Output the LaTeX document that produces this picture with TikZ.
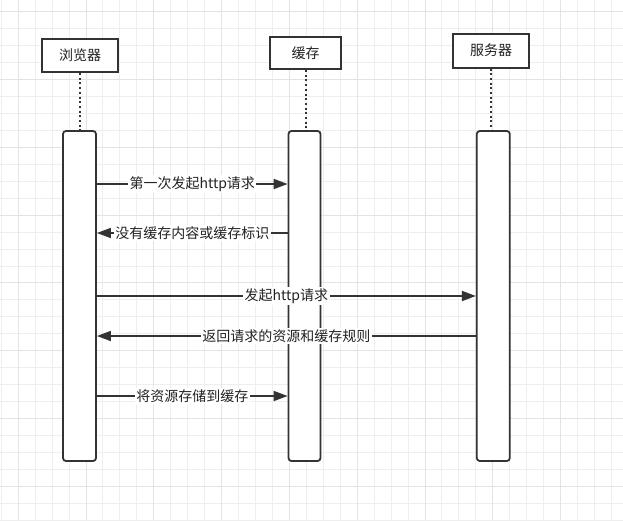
\documentclass[tikz,border=0pt]{standalone}
\usepackage{fontspec}
\newfontfamily\cjk{Noto Sans CJK SC}
\usepackage{xcolor}
\usepackage{tikz}
\usetikzlibrary{arrows.meta,positioning,calc}
\definecolor{ink}{HTML}{333333}
\definecolor{textink}{HTML}{222222}
\definecolor{gridminor}{HTML}{EEEEEE}
\definecolor{gridmajor}{HTML}{E3E3E3}

\begin{document}
\begin{tikzpicture}[x=1pt, y=-1pt,
    gridline/.style={draw=gridminor, line width=0.9pt},
    gridmain/.style={draw=gridmajor, line width=0.9pt},
    actor/.style={draw=ink, rectangle, line width=2pt, fill=white, minimum width=76pt, minimum height=33pt, text centered, text=textink, font=\cjk\fontsize{14}{16}\selectfont},
    bar/.style={draw=ink, rectangle, rounded corners=3pt, line width=1.8pt, fill=white, minimum width=33pt, minimum height=330pt},
    lifeline/.style={draw=ink, line width=2pt, dash pattern=on 2pt off 2.7pt},
    msg/.style={draw=ink, line width=1.7pt, -{Triangle[length=14pt,width=10pt]}},
    lbl/.style={fill=white, inner sep=1.5pt, text=textink, font=\cjk\fontsize{14}{16}\selectfont}
]
\useasboundingbox (0,0) rectangle (623,520);
\fill[white] (0,0) rectangle (623,520);

\foreach \i [evaluate=\i as \x using 1.2+16.95*\i] in {0,...,36}
    \draw[gridline] (\x,0) -- (\x,520);
\foreach \i [evaluate=\i as \y using 11.7+16.95*\i] in {0,...,30}
    \draw[gridline] (0,\y) -- (623,\y);
\foreach \i [evaluate=\i as \x using 1.2+16.95*(4*\i+1)] in {0,...,8}
    \draw[gridmain] (\x,0) -- (\x,520);
\foreach \i [evaluate=\i as \y using 11.7+16.95*4*\i] in {0,...,7}
    \draw[gridmain] (0,\y) -- (623,\y);

\node[actor] (browser) at (80,55.5) {浏览器};
\node[actor, minimum width=71pt, minimum height=32pt] (cache) at (305.5,53) {缓存};
\node[actor, minimum height=34pt] (server) at (491,50.5) {服务器};

\node[bar] (brbar) at (79.5,296) {};
\node[bar, minimum width=32pt] (cabar) at (304.5,296) {};
\node[bar] (svbar) at (493.3,296) {};

\draw[lifeline] (browser.south) -- (browser.south |- brbar.north);
\draw[lifeline] (cache.south) -- (cache.south |- cabar.north);
\draw[lifeline] (server.south) -- (server.south |- svbar.north);

\coordinate (m1) at (0,184);
\coordinate (m2) at (0,233);
\coordinate (m3) at (0,296);
\coordinate (m4) at (0,336);
\coordinate (m5) at (0,396);

\draw[msg] (brbar.east |- m1) -- node[lbl] {第一次发起http请求} (cabar.west |- m1);
\draw[msg] (cabar.west |- m2) -- node[lbl] {没有缓存内容或缓存标识} (brbar.east |- m2);
\draw[msg] (brbar.east |- m3) -- node[lbl] {发起http请求} (svbar.west |- m3);
\draw[msg] (svbar.west |- m4) -- node[lbl] {返回请求的资源和缓存规则} (brbar.east |- m4);
\draw[msg] (brbar.east |- m5) -- node[lbl] {将资源存储到缓存} (cabar.west |- m5);
\end{tikzpicture}
\end{document}
